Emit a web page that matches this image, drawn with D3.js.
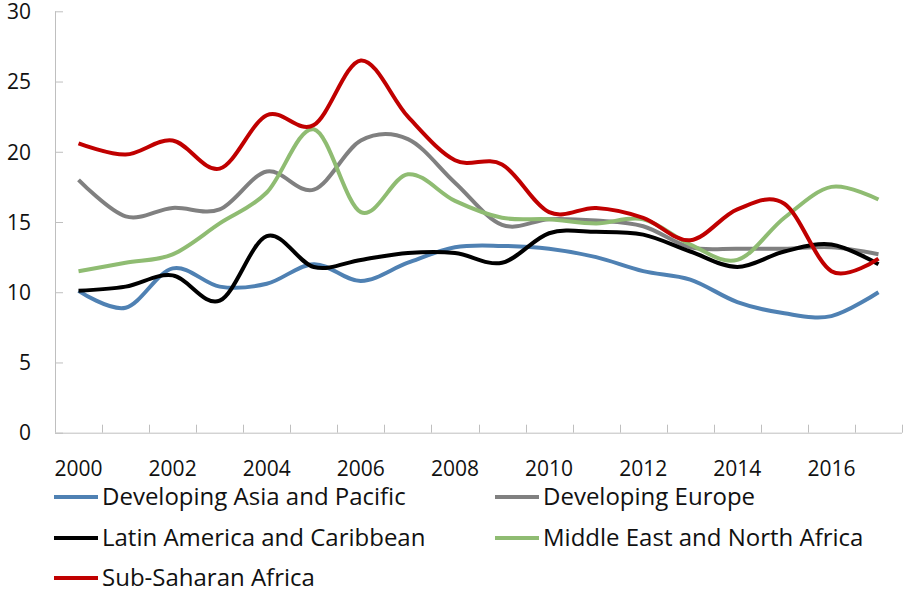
<!DOCTYPE html>
<html>
<head>
<meta charset="utf-8">
<script src="https://cdn.jsdelivr.net/npm/d3@7"></script>
<style>
  body { margin: 0; background: #fff; }
  text { font-family: "Open Sans", "Noto Sans", sans-serif; fill: #111; }
</style>
</head>
<body>
<div id="chart"></div>
<script>
// data
const years = d3.range(2000, 2018)
const yTicks = [0, 5, 10, 15, 20, 25, 30]

const asiaPacific = [10.1, 8.9, 11.7, 10.4, 10.6, 12.0, 10.8, 12.1, 13.2, 13.3, 13.1, 12.5, 11.5, 10.9, 9.3, 8.5, 8.3, 10.0]
const devEurope   = [18.0, 15.4, 16.0, 15.9, 18.6, 17.3, 20.8, 20.9, 17.8, 14.8, 15.2, 15.1, 14.7, 13.2, 13.1, 13.1, 13.2, 12.7]
const latAm       = [10.1, 10.4, 11.2, 9.4, 14.0, 11.8, 12.3, 12.8, 12.8, 12.1, 14.2, 14.3, 14.1, 12.9, 11.8, 12.9, 13.4, 12.0]
const mena        = [11.5, 12.1, 12.7, 14.9, 17.1, 21.6, 15.7, 18.4, 16.5, 15.3, 15.2, 14.9, 15.2, 13.4, 12.3, 15.3, 17.5, 16.6]
const ssa         = [20.6, 19.8, 20.8, 18.8, 22.6, 21.9, 26.5, 22.5, 19.4, 19.1, 15.7, 16.0, 15.3, 13.7, 15.9, 16.3, 11.5, 12.4]

const series = [
  {name: 'Developing Asia and Pacific', values: asiaPacific, color: '#4f81b3'},
  {name: 'Developing Europe', values: devEurope, color: '#808080'},
  {name: 'Latin America and Caribbean', values: latAm, color: '#000000'},
  {name: 'Middle East and North Africa', values: mena, color: '#8fbc72'},
  {name: 'Sub-Saharan Africa', values: ssa, color: '#c00000'}
]

// canvas
const width = 904,
height = 591
const plot = {left: 55, right: 902, top: 11.3, bottom: 432.7}

let svg = d3.select('#chart')
.append('svg')
.attr('width', width)
.attr('height', height)

const xScale = d3.scaleBand()
.domain(years)
.range([plot.left, plot.right])

const yScale = d3.scaleLinear()
.domain([0, 30])
.range([plot.bottom, plot.top])

const axisColor = '#bfbfbf'

// y axis, ticks pointing inwards
let yAxis = svg.append('g')
.attr('transform', `translate(${plot.left},0)`)
.call(d3.axisRight(yScale).tickValues(yTicks).tickSize(8).tickFormat(''))
yAxis.select('.domain').attr('stroke', axisColor).attr('d', `M0.5,${plot.bottom}V${plot.top}`)
yAxis.selectAll('.tick line').attr('stroke', axisColor)

svg.selectAll('.ylabel')
.data(yTicks)
.enter()
.append('text')
.attr('class', 'ylabel')
.attr('x', 31)
.attr('y', d => yScale(d))
.attr('dy', '0.37em')
.attr('text-anchor', 'end')
.style('font-size', '21px')
.text(d => d)

// x axis: ticks between categories
const bounds = years.map(y => xScale(y)).concat([plot.right])
let xAxis = svg.append('g')
xAxis.append('line')
.attr('x1', plot.left).attr('x2', plot.right)
.attr('y1', plot.bottom + 0.5).attr('y2', plot.bottom + 0.5)
.attr('stroke', axisColor)
xAxis.selectAll('.xtick')
.data(bounds.slice(1))
.enter()
.append('line')
.attr('class', 'xtick')
.attr('x1', d => Math.round(d) + 0.5).attr('x2', d => Math.round(d) + 0.5)
.attr('y1', plot.bottom).attr('y2', plot.bottom - 8)
.attr('stroke', axisColor)

svg.selectAll('.xlabel')
.data(years.filter((d, i) => i % 2 === 0))
.enter()
.append('text')
.attr('class', 'xlabel')
.attr('x', d => xScale(d) + xScale.bandwidth() / 2)
.attr('y', 476)
.attr('text-anchor', 'middle')
.style('font-size', '21px')
.text(d => d)

// lines
const line = d3.line()
.x((d, i) => xScale(years[i]) + xScale.bandwidth() / 2)
.y(d => yScale(d))
.curve(d3.curveCatmullRom.alpha(0))

svg.selectAll('.series')
.data(series)
.enter()
.append('path')
.attr('class', 'series')
.attr('d', d => line(d.values))
.attr('fill', 'none')
.attr('stroke', d => d.color)
.attr('stroke-width', 4)
.attr('stroke-linejoin', 'round')

// legend
const legendX = [54, 495]
const legendY = [497, 538, 578]
let legend = svg.selectAll('.legend')
.data(series)
.enter()
.append('g')
.attr('class', 'legend')
.attr('transform', (d, i) => `translate(${legendX[i % 2]},${legendY[Math.floor(i / 2)]})`)

legend.append('line')
.attr('x1', 0).attr('x2', 44)
.attr('y1', 0).attr('y2', 0)
.attr('stroke', d => d.color)
.attr('stroke-width', 4)

legend.append('text')
.attr('x', 48)
.attr('y', 8)
.style('font-size', '24px')
.text(d => d.name)
</script>
</body>
</html>
